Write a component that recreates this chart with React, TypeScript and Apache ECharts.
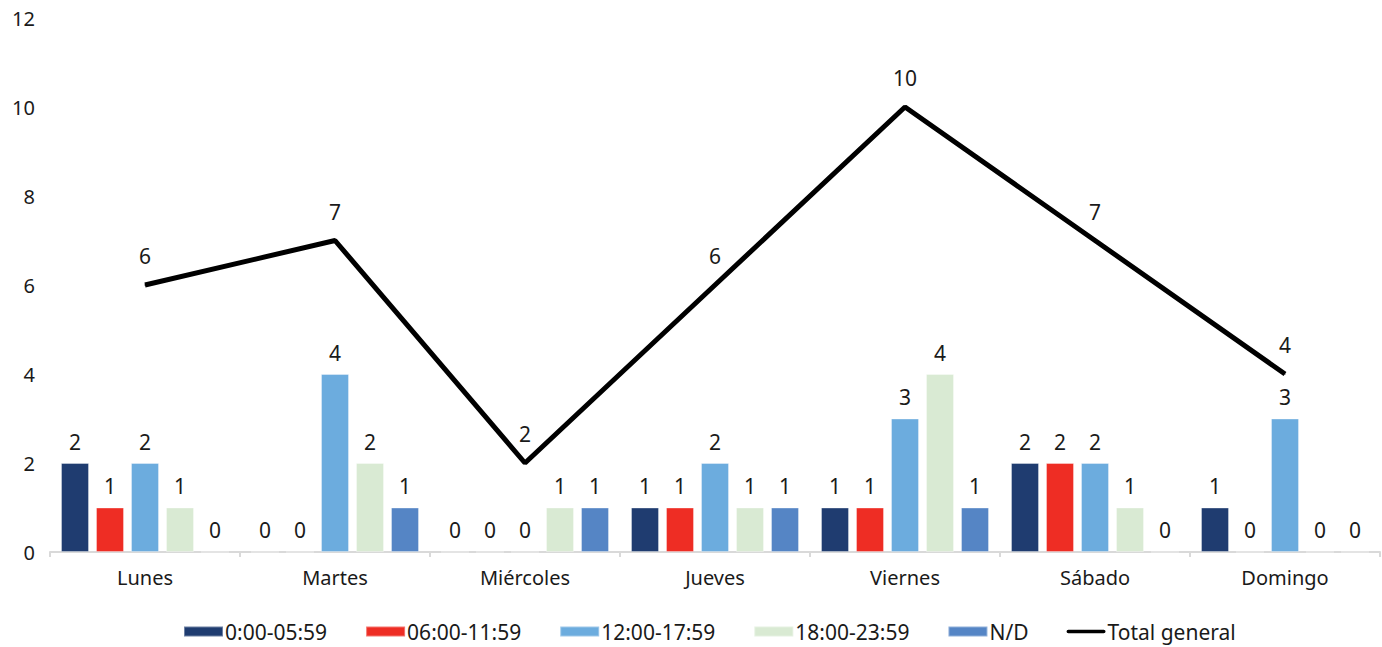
import React, { useEffect, useRef } from "react";
import * as echarts from "echarts";

const categories = ["Lunes", "Martes", "Miércoles", "Jueves", "Viernes", "Sábado", "Domingo"];
const s0000 = [2, 0, 0, 1, 1, 2, 1];
const s0600 = [1, 0, 0, 1, 1, 2, 0];
const s1200 = [2, 4, 0, 2, 3, 2, 3];
const s1800 = [1, 2, 1, 1, 4, 1, 0];
const sND = [0, 1, 1, 1, 1, 0, 0];
const total = [6, 7, 2, 6, 10, 7, 4];
const yTicks = { min: 0, max: 12, interval: 2 };

const barNames = ["0:00-05:59", "06:00-11:59", "12:00-17:59", "18:00-23:59", "N/D"];
const barColors = ["#1F3C70", "#EE2D24", "#6CACDE", "#D9EAD3", "#5585C5"];
const barData = [s0000, s0600, s1200, s1800, sND];

const FONT = "Noto Sans";
const FS = 20;
const FSN = 21;

export default function App() {
  const ref = useRef<HTMLDivElement>(null);
  useEffect(() => {
    if (!ref.current) return;
    const chart = echarts.init(ref.current, null, { renderer: "svg" });
    const barSeries = barNames.map((name, i) => ({
      name,
      type: "bar",
      data: barData[i],
      barWidth: 28,
      barGap: "25%",
      itemStyle: { color: barColors[i], borderColor: "rgba(255,255,255,0.35)", borderWidth: 1 },
      label: {
        show: true,
        position: "top",
        distance: 11,
        color: "#1a1a1a",
        fontSize: FSN,
        fontFamily: FONT,
      },
    }));
    chart.setOption({
      animation: false,
      textStyle: { fontFamily: FONT },
      grid: { left: 50, right: 2, top: 18, bottom: 95, containLabel: false },
      xAxis: {
        type: "category",
        data: categories,
        axisLine: { lineStyle: { color: "#d9d9d9", width: 2 } },
        axisTick: { show: true, length: 5, lineStyle: { color: "#d9d9d9", width: 2 } },
        axisLabel: { color: "#1a1a1a", fontSize: FS, fontFamily: FONT, margin: 15 },
      },
      yAxis: {
        type: "value",
        min: yTicks.min,
        max: yTicks.max,
        interval: yTicks.interval,
        splitLine: { show: false },
        axisLine: { show: false },
        axisTick: { show: false },
        axisLabel: { color: "#1a1a1a", fontSize: FS, fontFamily: FONT, margin: 15 },
      },
      legend: {
        bottom: 0,
        left: 178,
        itemWidth: 39,
        itemHeight: 10,
        itemGap: 38,
        textStyle: { color: "#1a1a1a", fontSize: FSN, fontFamily: FONT, padding: [0, 0, 0, -3] },
        data: [
          ...barNames.map((n) => ({ name: n, icon: "rect" })),
          {
            name: "Total general",
            icon: "path://M2,0 H41 A2,2 0 0 1 41,4 H2 A2,2 0 0 1 2,0 Z",
            itemStyle: { color: "#000" },
          },
        ],
      },
      series: [
        ...barSeries,
        {
          name: "Total general",
          type: "line",
          data: total,
          symbol: "circle",
          symbolSize: 1,
          lineStyle: { color: "#000", width: 5 },
          itemStyle: { color: "#000" },
          label: {
            show: true,
            position: "top",
            distance: 18,
            color: "#1a1a1a",
            fontSize: FSN,
            fontFamily: FONT,
          },
          z: 5,
        },
      ],
    });
    return () => chart.dispose();
  }, []);
  return (
    <div
      ref={ref}
      style={{ position: "absolute", left: 0, top: 0, width: 1382, height: 647, background: "#fff" }}
    />
  );
}
